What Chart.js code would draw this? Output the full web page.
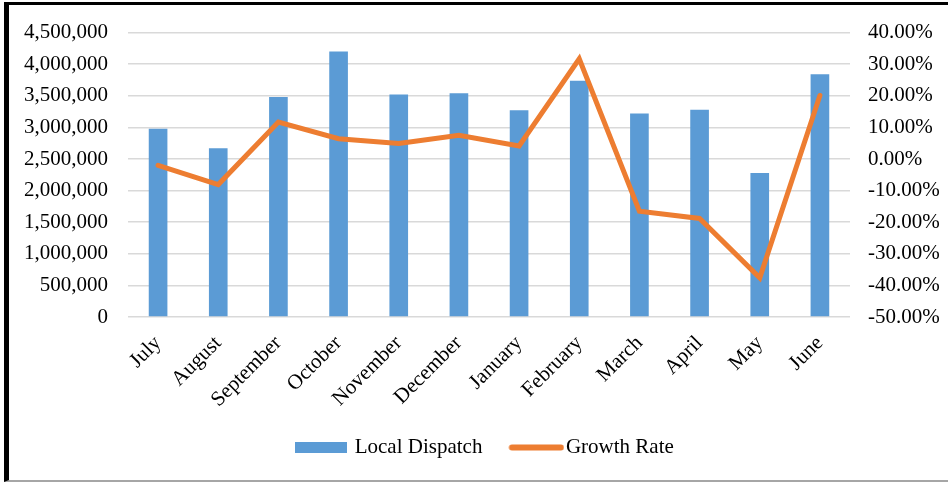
<!DOCTYPE html>
<html>
<head>
<meta charset="utf-8">
<script src="https://cdn.jsdelivr.net/npm/chart.js@4/dist/chart.umd.min.js"></script>
<style>
    html, body { margin: 0; padding: 0; background: #fff; }
    #wrap { position: relative; width: 948px; height: 482px; overflow: hidden; }
    #graph { position: absolute; left: 0; top: 0; }
    #frame
    {
        position: absolute; left: 4px; top: 2px; width: 950px; height: 475px;
        border-top: 3px solid #000; border-left: 5px solid #000; border-bottom: 2px solid #a6a6a6;
        pointer-events: none;
    }
</style>
</head>
<body>
<div id="wrap">
    <canvas id="graph" width="948" height="482"></canvas>
    <div id="frame"></div>
</div>
<script>
// monthly figures
const months = ["July", "August", "September", "October", "November", "December",
                "January", "February", "March", "April", "May", "June"];

const localDispatch = [2980000, 2670000, 3480000, 4200000, 3520000, 3540000,
                       3270000, 3740000, 3220000, 3280000, 2280000, 3840000];

const growthRate = [-2.0, -8.1, 11.7, 6.4, 4.9, 7.5, 4.1, 31.7, -16.5, -18.8, -37.6, 20.1];

const leftTicks = { min: 0, max: 4500000, step: 500000 };
const rightTicks = { min: -50, max: 40, step: 10 };

const blue = "#5b9bd5";
const orange = "#ed7d31";
const font = { family: "'Liberation Serif', 'Times New Roman', serif", size: 21 };

/**********/
// legend swatch image; "skip" leaves a blank strip on the left
function legendSwatch(w, h, color, round, skip)
{
    let c = document.createElement("canvas");
    c.width = w;
    c.height = h;
    let ctx = c.getContext("2d");
    if(round)
    {
        ctx.strokeStyle = color;
        ctx.lineWidth = h - 1;
        ctx.lineCap = "round";
        ctx.beginPath();
        ctx.moveTo(skip + h / 2, h / 2);
        ctx.lineTo(w - h / 2, h / 2);
        ctx.stroke();
    }
    else
    {
        ctx.fillStyle = color;
        ctx.fillRect(skip, 0, w - skip, h);
    }
    return c;
}

const swatches = [ legendSwatch(52, 11, blue, false, 0), legendSwatch(64, 7, orange, true, 8) ];

/**********/
function drawChart()
{
    const ctx = document.getElementById("graph");

    window.graph = new Chart(ctx,
    {
        type: 'bar',

        data:
        {
            labels: months,
            datasets:
            [
                {
                    label: "Local Dispatch",
                    data: localDispatch,
                    backgroundColor: blue,
                    borderWidth: 0,
                    yAxisID: "y",
                    order: 1,
                    barPercentage: 0.31,
                    categoryPercentage: 1.0
                },
                {
                    type: 'line',
                    label: "Growth Rate",
                    data: growthRate,
                    borderColor: orange,
                    backgroundColor: orange,
                    borderWidth: 5,
                    borderCapStyle: 'round',
                    borderJoinStyle: 'miter',
                    pointRadius: 0,
                    tension: 0,
                    yAxisID: "y1",
                    order: 0
                }
            ]
        },

        options:
        {
            responsive: false,
            animation: false,
            layout: { padding: { left: 24, right: 0, top: 32, bottom: 14 } },
            plugins:
            {
                tooltip: { enabled: false },
                legend:
                {
                    position: 'bottom',
                    labels:
                    {
                        font: font,
                        color: "#000",
                        padding: 27,
                        usePointStyle: true,
                        pointStyleWidth: 46,
                        sort: (a, b) => a.datasetIndex - b.datasetIndex,
                        generateLabels: function(chart)
                        {
                            let items = Chart.defaults.plugins.legend.labels.generateLabels(chart);
                            items.forEach(it => { it.pointStyle = swatches[it.datasetIndex]; });
                            return items;
                        }
                    }
                }
            },
            scales:
            {
                x:
                {
                    grid: { display: false },
                    border: { display: false },
                    ticks: { font: font, color: "#000", autoSkip: false, maxRotation: 45, minRotation: 45, padding: 6 },
                    afterFit: function(scale) { scale.height = 93; }
                },
                y:
                {
                    position: 'left',
                    min: leftTicks.min,
                    max: leftTicks.max,
                    grid: { color: "#d9d9d9", lineWidth: 1.5, drawTicks: false },
                    border: { display: false },
                    ticks:
                    {
                        stepSize: leftTicks.step,
                        font: font,
                        color: "#000",
                        padding: 20,
                        callback: v => v.toLocaleString("en-US")
                    },
                    afterFit: function(scale) { scale.width = 104; }
                },
                y1:
                {
                    position: 'right',
                    min: rightTicks.min,
                    max: rightTicks.max,
                    grid: { display: false, drawTicks: false },
                    border: { display: false },
                    ticks:
                    {
                        stepSize: rightTicks.step,
                        font: font,
                        color: "#000",
                        padding: 18,
                        callback: v => v.toFixed(2) + "%"
                    },
                    afterFit: function(scale) { scale.width = 98; }
                }
            }
        }
    });
}

drawChart();
</script>
</body>
</html>
